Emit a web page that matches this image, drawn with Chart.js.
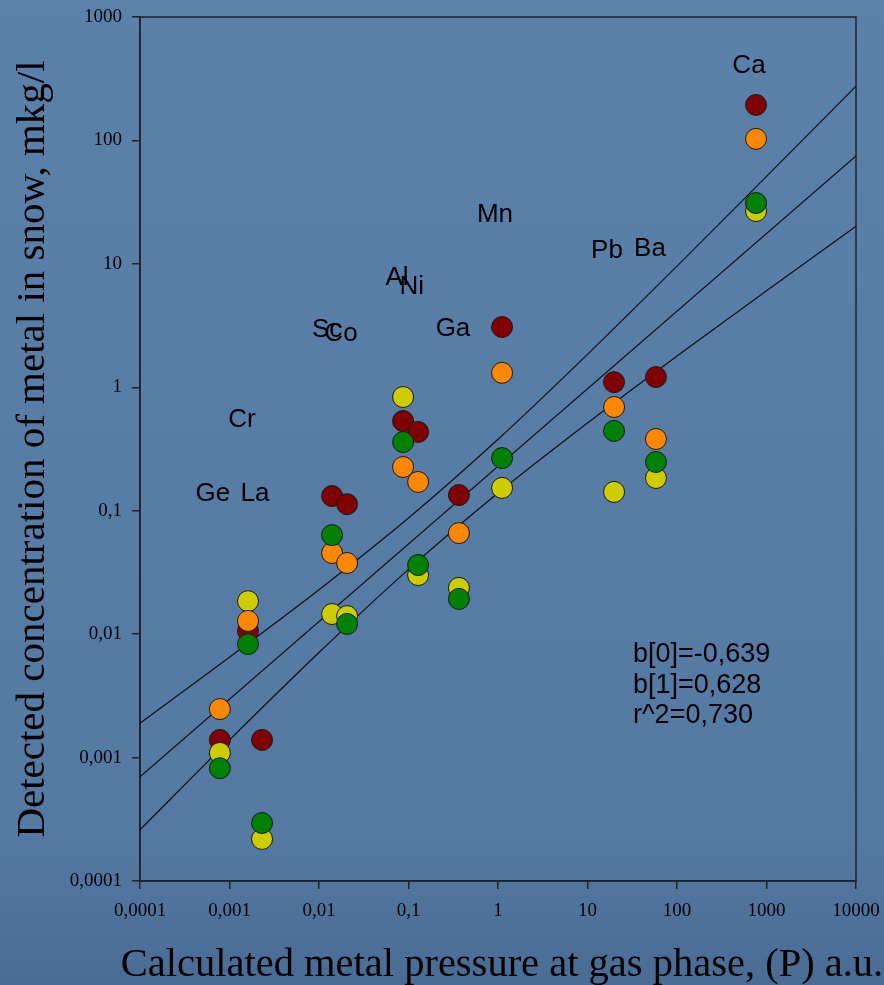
<!DOCTYPE html>
<html>
<head>
<meta charset="utf-8">
<script src="https://cdn.jsdelivr.net/npm/chart.js@4/dist/chart.umd.min.js"></script>
<style>
  html, body { margin: 0; padding: 0; background: #56799f; }
  #wrap { width: 884px; height: 985px; position: relative; }
</style>
</head>
<body>
<div id="wrap"><canvas id="c"></canvas></div>
<script>
// calculated pressure (x) for each column of points
const pressure = [0.00078, 0.00161, 0.00231, 0.014, 0.0206, 0.087, 0.128, 0.366, 1.11, 19.8, 58.2, 764];

// detected concentrations, one array per sample colour
const redConc    = [0.00139, 0.0106, 0.00139, 0.1315, 0.113, 0.533, 0.435, 0.134, 3.08, 1.10, 1.21, 194];
const orangeConc = [0.00247, 0.0128, null, 0.0454, 0.0377, 0.226, 0.171, 0.0659, 1.31, 0.692, 0.381, 103];
const yellowConc = [0.00109, 0.0185, 0.000219, 0.01455, 0.0140, 0.834, 0.0301, 0.0237, 0.153, 0.142, 0.184, 26.8];
const greenConc  = [0.00082, 0.0083, 0.000295, 0.0635, 0.0121, 0.360, 0.0363, 0.0193, 0.267, 0.443, 0.248, 31.1];

// regression line and confidence band
const fitX = [0.0001, 10000];
const fitY = [0.0007, 75];
const bandX = [0.0001, 0.001, 0.01, 0.1, 1, 10, 100, 1000, 10000];
const bandUpper = [0.0019, 0.0065, 0.0229, 0.0872, 0.379, 1.85, 9.58, 51.1, 275];
const bandLower = [0.00026, 0.00139, 0.0071, 0.0335, 0.139, 0.514, 1.79, 6.05, 20.2];

// element labels
const labelNames = ["Ge", "La", "Cr", "Sc", "Co", "Al", "Ni", "Ga", "Mn", "Pb", "Ba", "Ca"];
const labelX = [0.00065, 0.00193, 0.00138, 0.0123, 0.0176, 0.0745, 0.109, 0.314, 0.925, 16.5, 49.9, 637];
const labelY = [0.136, 0.136, 0.543, 2.91, 2.70, 7.68, 6.49, 2.97, 24.9, 12.7, 13.2, 401];

// regression statistics
const statsLines = ["b[0]=-0,639", "b[1]=0,628", "r^2=0,730"];
const statsPos = [32.2, 0.00678];

// axis ticks and titles
const xTicks = [0.0001, 0.001, 0.01, 0.1, 1, 10, 100, 1000, 10000];
const xTickLabels = ["0,0001", "0,001", "0,01", "0,1", "1", "10", "100", "1000", "10000"];
const yTicks = [0.0001, 0.001, 0.01, 0.1, 1, 10, 100, 1000];
const yTickLabels = ["0,0001", "0,001", "0,01", "0,1", "1", "10", "100", "1000"];
const xTitle = "Calculated metal pressure at gas phase, (P) a.u.";
const yTitle = "Detected concentration of metal in snow, mkg/l";

const serif = "'Liberation Serif', 'Times New Roman', serif";

const pts = (xs, ys) => xs.map((x, i) => ({ x: x, y: ys[i] })).filter(p => p.y !== null);

const pointSet = (label, ys, color) => ({
  label: label,
  data: pts(pressure, ys),
  backgroundColor: color,
  borderColor: "#1a1a1a",
  borderWidth: 1,
  pointRadius: 10.5,
  showLine: false,
});

const lineSet = (label, xs, ys) => ({
  label: label,
  data: pts(xs, ys),
  showLine: true,
  borderColor: "#111",
  borderWidth: 1.2,
  pointRadius: 0,
  cubicInterpolationMode: "monotone",
  fill: false,
});

const bgPlugin = {
  id: "bg",
  beforeDraw(chart) {
    const ctx = chart.ctx;
    const g = ctx.createLinearGradient(0, 0, 0, chart.height);
    g.addColorStop(0, "#5b80aa");
    g.addColorStop(0.85, "#5479a2");
    g.addColorStop(1, "#4a6b94");
    ctx.save();
    ctx.fillStyle = g;
    ctx.fillRect(0, 0, chart.width, chart.height);
    ctx.restore();
  },
};

const framePlugin = {
  id: "frame",
  beforeDatasetsDraw(chart) {
    const a = chart.chartArea;
    const ctx = chart.ctx;
    ctx.save();
    ctx.strokeStyle = "#222";
    ctx.lineWidth = 1.5;
    ctx.strokeRect(a.left, a.top, a.right - a.left, a.bottom - a.top);
    ctx.restore();
  },
};

const textPlugin = {
  id: "texts",
  afterDatasetsDraw(chart) {
    const ctx = chart.ctx;
    const xs = chart.scales.x, ys = chart.scales.y;
    ctx.save();
    ctx.fillStyle = "#000";
    ctx.font = "26px 'Liberation Sans', Arial, sans-serif";
    ctx.textAlign = "center";
    ctx.textBaseline = "middle";
    labelNames.forEach((n, i) => {
      ctx.fillText(n, xs.getPixelForValue(labelX[i]), ys.getPixelForValue(labelY[i]));
    });
    ctx.font = "27px 'Liberation Sans', Arial, sans-serif";
    ctx.textAlign = "left";
    const sx = xs.getPixelForValue(statsPos[0]);
    const sy = ys.getPixelForValue(statsPos[1]);
    statsLines.forEach((t, i) => ctx.fillText(t, sx, sy + i * 30.5));

    // x axis title runs wider than the plot, so it is drawn here
    ctx.font = "40.5px " + serif;
    ctx.textAlign = "center";
    ctx.textBaseline = "alphabetic";
    ctx.fillText(xTitle, (chart.chartArea.left + chart.chartArea.right) / 2 + 4, chart.height - 9);
    ctx.restore();
  },
};

new Chart(document.getElementById("c"), {
  type: "scatter",
  data: {
    datasets: [
      pointSet("green", greenConc, "#008000"),
      pointSet("orange", orangeConc, "#ff8800"),
      pointSet("yellow", yellowConc, "#cccc00"),
      pointSet("red", redConc, "#800000"),
      lineSet("fit", fitX, fitY),
      lineSet("upper", bandX, bandUpper),
      lineSet("lower", bandX, bandLower),
    ],
  },
  options: {
    responsive: true,
    maintainAspectRatio: false,
    animation: false,
    layout: { padding: { top: 17, right: 28, left: 0, bottom: 0 } },
    plugins: { legend: { display: false }, tooltip: { enabled: false } },
    scales: {
      x: {
        type: "logarithmic",
        min: 0.0001,
        max: 10000,
        afterBuildTicks: (s) => { s.ticks = xTicks.map(v => ({ value: v })); },
        afterFit: (s) => { s.height = 104; s.paddingLeft = 0; s.paddingRight = 0; },
        grid: { drawOnChartArea: false, drawTicks: true, tickLength: 8, color: "#222", lineWidth: 1.5 },
        border: { color: "#222", width: 1.5 },
        ticks: {
          autoSkip: false,
          maxRotation: 0,
          padding: 11,
          color: "#000",
          font: { family: serif, size: 19 },
          callback: (v, i) => xTickLabels[i],
        },
        title: { display: false },
      },
      y: {
        type: "logarithmic",
        min: 0.0001,
        max: 1000,
        afterBuildTicks: (s) => { s.ticks = yTicks.map(v => ({ value: v })); },
        afterFit: (s) => { s.width = 140; s.paddingTop = 0; s.paddingBottom = 0; },
        grid: { drawOnChartArea: false, drawTicks: true, tickLength: 8, color: "#222", lineWidth: 1.5 },
        border: { color: "#222", width: 1.5 },
        ticks: {
          autoSkip: false,
          padding: 10,
          color: "#000",
          font: { family: serif, size: 19 },
          callback: (v, i) => yTickLabels[i],
        },
        title: {
          display: true,
          text: yTitle,
          color: "#000",
          font: { family: serif, size: 41 },
          padding: { top: 9, bottom: 0 },
        },
      },
    },
  },
  plugins: [bgPlugin, framePlugin, textPlugin],
});
</script>
</body>
</html>
